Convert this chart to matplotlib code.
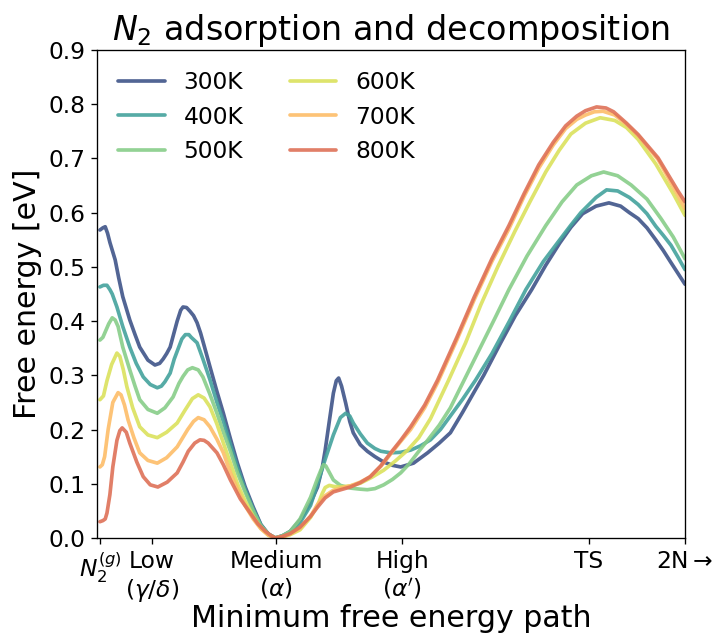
import numpy as np
import matplotlib
matplotlib.use("Agg")
import matplotlib.pyplot as plt

# reaction coordinate: N2(g) = 0, 2N = 10
x300 = [0, 0.05, 0.09, 0.13, 0.17, 0.26, 0.32, 0.39, 0.51, 0.6, 0.68, 0.82, 0.94, 1.02, 1.08, 1.14, 1.2, 1.27, 1.32, 1.38,
        1.42, 1.48, 1.54, 1.6, 1.66, 1.72, 1.78, 1.88, 2.0, 2.11, 2.23, 2.35, 2.48, 2.62, 2.75, 2.88, 3.0, 3.12, 3.25, 3.42,
        3.6, 3.72, 3.8, 3.85, 3.92, 3.99, 4.04, 4.08, 4.13, 4.2, 4.27, 4.33, 4.45, 4.57, 4.7, 4.85, 5.0, 5.14, 5.36, 5.6,
        5.8, 5.99, 6.2, 6.4, 6.56, 6.85, 7.1, 7.38, 7.62, 7.86, 8.05, 8.25, 8.48, 8.7, 8.9, 9.05, 9.2, 9.35, 9.5, 9.63,
        9.76, 9.88, 10.0]
y300 = [.568, .572, .574, .562, .545, .513, .48, .445, .402, .375, .352, .328, .319, .322, .33, .34, .352, .38, .40, .42,
        .426, .425, .418, .41, .397, .378, .355, .316, .27, .23, .183, .138, .095, .057, .025, .007, 0, .004, .012, .033,
        .065, .094, .13, .162, .215, .267, .29, .295, .28, .249, .215, .194, .172, .16, .15, .14, .134, .131, .138, .157,
        .175, .194, .232, .27, .30, .36, .41, .458, .503, .544, .573, .598, .612, .618, .612, .60, .589, .572, .55, .53,
        .508, .488, .468]

x400 = [0, 0.06, 0.12, 0.17, 0.21, 0.29, 0.39, 0.51, 0.62, 0.74, 0.86, 0.98, 1.05, 1.11, 1.2, 1.27, 1.34, 1.4, 1.46, 1.52,
        1.56, 1.66, 1.76, 1.88, 2.0, 2.11, 2.23, 2.35, 2.48, 2.62, 2.75, 2.88, 3.0, 3.12, 3.25, 3.42, 3.6, 3.72, 3.85, 3.99,
        4.11, 4.2, 4.27, 4.33, 4.45, 4.57, 4.7, 4.8, 4.97, 5.14, 5.31, 5.48, 5.65, 5.82, 5.99, 6.2, 6.42, 6.7, 7.0, 7.28,
        7.58, 7.86, 8.05, 8.22, 8.48, 8.66, 8.85, 9.05, 9.2, 9.35, 9.5, 9.63, 9.76, 9.88, 10.0]
y400 = [.463, .466, .466, .458, .45, .426, .39, .352, .322, .297, .283, .277, .28, .288, .304, .33, .35, .367, .375, .375,
        .37, .36, .33, .292, .25, .215, .172, .13, .09, .053, .024, .007, 0, .004, .01, .028, .06, .10, .145, .19,
        .222, .23, .225, .212, .192, .175, .165, .16, .157, .158, .162, .17, .181, .2, .225, .256, .291, .34, .40, .458,
        .51, .55, .577, .60, .628, .642, .64, .628, .615, .598, .575, .558, .54, .518, .495]

x500 = [0, .05, .09, .15, .21, .26, .31, .39, .51, .6, .68, .82, .98, 1.11, 1.25, 1.35, 1.42, 1.5, 1.58, 1.68,
        1.76, 1.88, 2.0, 2.11, 2.23, 2.35, 2.48, 2.62, 2.74, 2.88, 3.0, 3.12, 3.25, 3.42, 3.6, 3.72, 3.78, 3.82, 3.86, 3.9,
        3.99, 4.11, 4.28, 4.45, 4.57, 4.7, 4.85, 5.0, 5.14, 5.28, 5.43, 5.6, 5.8, 5.99, 6.22, 6.51, 6.75, 6.99, 7.3, 7.62,
        7.9, 8.15, 8.4, 8.61, 8.85, 9.08, 9.35, 9.59, 9.8, 10.0]
y500 = [.365, .37, .38, .395, .406, .402, .39, .352, .31, .28, .255, .237, .23, .24, .26, .285, .298, .31, .314, .31,
        .297, .265, .23, .195, .16, .12, .085, .05, .024, .007, 0, .004, .012, .035, .075, .11, .126, .135, .133, .125,
        .107, .097, .092, .09, .089, .091, .098, .108, .12, .136, .157, .18, .208, .24, .29, .353, .405, .458, .52, .576,
        .62, .651, .668, .675, .668, .651, .625, .589, .555, .515]

x600 = [0, .06, .12, .2, .29, .34, .4, .46, .56, .68, .82, .98, 1.14, 1.32, 1.45, 1.58, 1.68, 1.78, 1.88, 2.0,
        2.11, 2.23, 2.35, 2.48, 2.62, 2.75, 2.88, 3.0, 3.12, 3.25, 3.42, 3.6, 3.72, 3.8, 3.85, 3.92, 4.0, 4.11, 4.28, 4.45,
        4.65, 4.85, 5.05, 5.26, 5.45, 5.65, 5.96, 6.25, 6.51, 6.8, 7.09, 7.35, 7.62, 7.85, 8.05, 8.3, 8.55, 8.8, 9.0, 9.2,
        9.5, 9.8, 10.0]
y600 = [.255, .262, .29, .32, .341, .335, .31, .279, .24, .205, .19, .185, .195, .212, .235, .257, .264, .258, .242, .21,
        .175, .138, .10, .068, .04, .018, .005, 0, .002, .006, .015, .038, .06, .082, .093, .097, .095, .094, .096, .101,
        .112, .125, .142, .162, .185, .22, .291, .36, .43, .50, .565, .62, .675, .715, .745, .765, .775, .77, .757, .735,
        .69, .635, .595]

x700 = [0, .04, .08, .14, .22, .31, .36, .42, .48, .58, .68, .82, .98, 1.14, 1.32, 1.5, 1.6, 1.68, 1.78, 1.88,
        2.0, 2.11, 2.23, 2.35, 2.48, 2.62, 2.75, 2.88, 3.0, 3.12, 3.25, 3.42, 3.6, 3.72, 3.85, 3.99, 4.15, 4.28, 4.45, 4.62,
        4.8, 4.97, 5.14, 5.31, 5.55, 5.77, 6.1, 6.4, 6.7, 6.99, 7.25, 7.5, 7.75, 7.96, 8.15, 8.3, 8.45, 8.6, 8.8, 9.0,
        9.2, 9.54, 9.88, 10.0]
y700 = [.131, .135, .15, .2, .25, .268, .264, .245, .218, .185, .157, .143, .138, .148, .168, .2, .215, .222, .218, .205,
        .182, .157, .12, .09, .06, .035, .017, .005, 0, .002, .007, .018, .04, .062, .078, .088, .093, .096, .103, .113,
        .132, .155, .178, .20, .24, .286, .365, .44, .51, .57, .63, .682, .725, .755, .772, .78, .786, .787, .78, .763,
        .742, .698, .632, .607]

x800 = [0, .05, .09, .12, .17, .22, .29, .34, .38, .45, .51, .63, .74, .86, .99, 1.15, 1.32, 1.42, 1.51, 1.62,
        1.71, 1.78, 1.85, 2.0, 2.11, 2.23, 2.4, 2.57, 2.7, 2.83, 2.93, 3.0, 3.12, 3.25, 3.42, 3.6, 3.72, 3.85, 3.99, 4.15,
        4.28, 4.45, 4.62, 4.8, 4.97, 5.14, 5.31, 5.55, 5.77, 6.1, 6.4, 6.7, 6.99, 7.25, 7.5, 7.75, 7.96, 8.15, 8.3, 8.49,
        8.65, 8.78, 9.0, 9.2, 9.54, 9.88, 10.0]
y800 = [.03, .032, .035, .046, .08, .131, .18, .198, .203, .195, .175, .14, .113, .098, .094, .103, .12, .14, .16, .175,
        .181, .18, .175, .157, .135, .107, .072, .046, .026, .012, .004, 0, .003, .008, .02, .04, .057, .074, .085, .09,
        .094, .102, .113, .133, .157, .18, .205, .245, .291, .37, .445, .515, .576, .635, .688, .73, .76, .778, .788, .795,
        .793, .786, .765, .744, .701, .64, .62]

labels = ['300K', '400K', '500K', '600K', '700K', '800K']
colors = ['#3f5489', '#44a29c', '#87cd89', '#dbe15c', '#fdbd68', '#de7158']

tick_pos = [0, 0.89, 3.01, 5.17, 8.36, 10.0]
tick_labels = ['$N_2^{(g)}$', 'Low\n($\\gamma/\\delta$)', 'Medium\n($\\alpha$)',
               "High\n($\\alpha'$)", 'TS', '2N$\\rightarrow$']

curves = [(x300, y300), (x400, y400), (x500, y500), (x600, y600), (x700, y700), (x800, y800)]

fig = plt.figure(figsize=(715 / 120, 635 / 120), dpi=120)
ax = fig.add_axes([0.1357, 0.1528, 0.8223, 0.7685])

for (xs, ys), lab, c in zip(curves, labels, colors):
    ax.plot(xs, ys, color=c, lw=2.2, alpha=0.9, label=lab,
            solid_joinstyle='round', solid_capstyle='round')

ax.set_xlim(-0.05, 10.0)
ax.set_ylim(0, 0.9)
ax.set_yticks(np.arange(0, 0.91, 0.1))
ax.set_xticks(tick_pos)
ax.set_xticklabels(tick_labels, fontsize=14)
ax.tick_params(axis='y', labelsize=14)
ax.set_title('$N_2$ adsorption and decomposition', fontsize=20)
ax.set_xlabel('Minimum free energy path', fontsize=18, labelpad=0)
ax.set_ylabel('Free energy [eV]', fontsize=18)
ax.legend(loc='upper left', ncol=2, frameon=False, fontsize=14)

fig.savefig('out.png', dpi=120)
